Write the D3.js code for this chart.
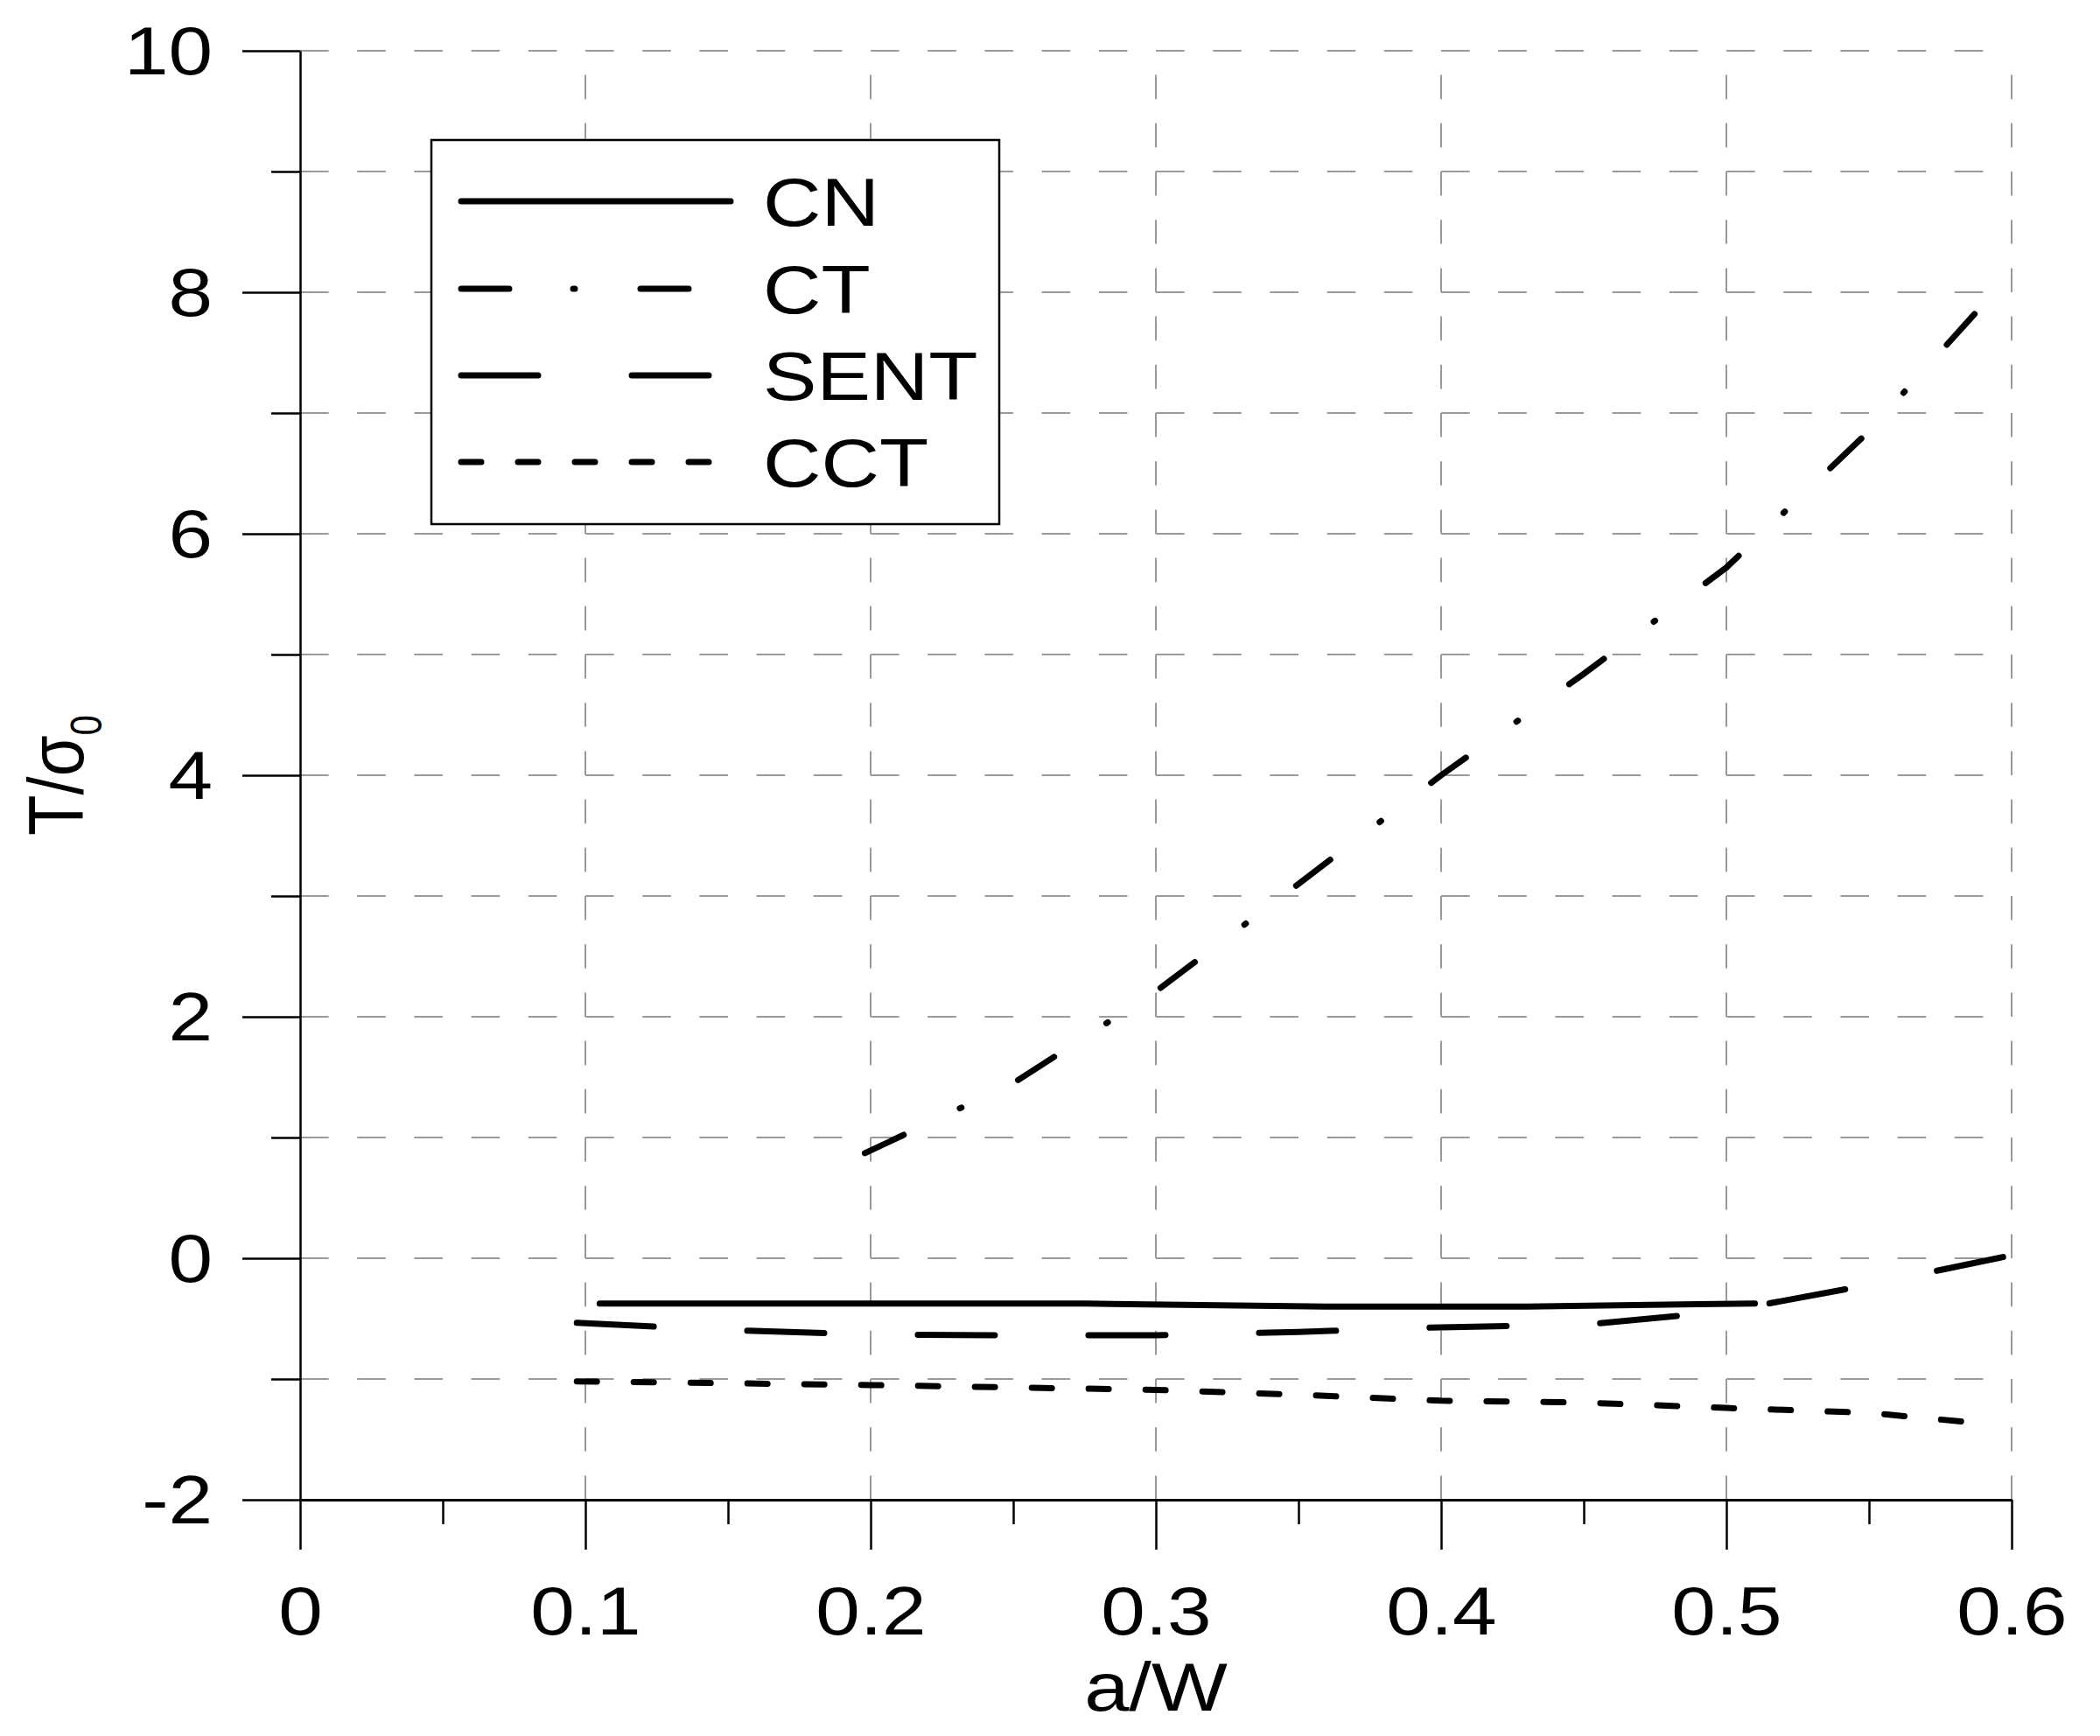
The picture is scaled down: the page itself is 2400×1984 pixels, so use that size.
<!DOCTYPE html>
<html>
<head>
<meta charset="utf-8">
<script src="https://cdn.jsdelivr.net/npm/d3@7"></script>
<style>
  html, body { margin: 0; padding: 0; background: #fff; }
  svg { display: block; }
  text { font-family: "Liberation Sans", Arial, Helvetica, sans-serif; fill: #000; }
</style>
</head>
<body>
<svg id="chart" width="2400" height="1984"></svg>
<script>
// ---- data ----
const xTicks = [0, 0.1, 0.2, 0.3, 0.4, 0.5, 0.6];
const xMinorTicks = [0.05, 0.15, 0.25, 0.35, 0.45, 0.55];
const yTicks = [-2, 0, 2, 4, 6, 8, 10];
const yMinorTicks = [-1, 1, 3, 5, 7, 9];
const gridYValues = [-1, 0, 1, 2, 3, 4, 5, 6, 7, 8, 9, 10];
const gridXValues = [0.1, 0.2, 0.3, 0.4, 0.5, 0.6];

const seriesNames = ["CN", "CT", "SENT", "CCT"];

const cnX = [0.105, 0.2, 0.275, 0.36, 0.43, 0.49, 0.51];
const cnY = [-0.375, -0.375, -0.375, -0.40, -0.40, -0.38, -0.375];

const ctX = [0.198, 0.25, 0.3, 0.35, 0.4, 0.45, 0.5, 0.55, 0.587];
const ctY = [0.87, 1.45, 2.21, 3.1, 4.0, 4.84, 5.72, 6.85, 7.82];

const sentX = [0.097, 0.15, 0.2, 0.25, 0.3, 0.35, 0.4, 0.45, 0.5, 0.55, 0.597];
const sentY = [-0.535, -0.595, -0.632, -0.638, -0.638, -0.61, -0.572, -0.55, -0.44, -0.22, 0.01];

const cctX = [0.097, 0.15, 0.2, 0.25, 0.3, 0.35, 0.4, 0.45, 0.5, 0.55, 0.586];
const cctY = [-1.02, -1.035, -1.05, -1.07, -1.09, -1.13, -1.18, -1.195, -1.24, -1.28, -1.36];

// ---- layout ----
const svg = d3.select("#chart");
const x = d3.scaleLinear().domain([0, 0.6]).range([343, 2299]);
const y = d3.scaleLinear().domain([-2, 10]).range([1714, 58]);
const SX = 1.18; // horizontal text stretch of the original

// grid
const grid = svg.append("g").attr("stroke", "#9a9a9a").attr("stroke-width", 2).attr("fill", "none");
grid.selectAll("line.h").data(gridYValues).join("line")
  .attr("x1", x(0)).attr("x2", x(0.6))
  .attr("y1", d => y(d)).attr("y2", d => y(d))
  .attr("stroke-dasharray", "32.6 32.6");
grid.selectAll("line.v").data(gridXValues).join("line")
  .attr("x1", d => x(d)).attr("x2", d => x(d))
  .attr("y1", y(-2)).attr("y2", y(10))
  .attr("stroke-dasharray", "27.6 27.6");

// axes
const fmt = d => String(d);
const yAxis = svg.append("g").attr("transform", `translate(${x(0)},0)`)
  .call(d3.axisLeft(y).tickValues(yTicks).tickFormat(fmt).tickSize(66).tickSizeOuter(0).tickPadding(0));
yAxis.select(".domain").attr("stroke-width", 2.5).attr("stroke", "#000");
yAxis.selectAll(".tick line").attr("stroke-width", 2.5).attr("stroke", "#000");
yAxis.selectAll(".tick text")
  .attr("font-size", 77).attr("font-family", null)
  .attr("x", -100 / SX).attr("dy", "0.35em")
  .attr("transform", `scale(${SX},1)`);

const yMinor = svg.append("g").attr("transform", `translate(${x(0)},0)`)
  .call(d3.axisLeft(y).tickValues(yMinorTicks).tickFormat("").tickSize(33).tickSizeOuter(0));
yMinor.select(".domain").remove();
yMinor.selectAll(".tick line").attr("stroke-width", 2.5).attr("stroke", "#000");

const xAxis = svg.append("g").attr("transform", `translate(0,${y(-2)})`)
  .call(d3.axisBottom(x).tickValues(xTicks).tickFormat(fmt).tickSize(57).tickSizeOuter(0).tickPadding(42));
xAxis.select(".domain").attr("stroke-width", 3).attr("stroke", "#000");
xAxis.selectAll(".tick line").attr("stroke-width", 2.5).attr("stroke", "#000");
xAxis.selectAll(".tick text")
  .attr("font-size", 77).attr("font-family", null)
  .attr("transform", `scale(${SX},1)`);

const xMinor = svg.append("g").attr("transform", `translate(0,${y(-2)})`)
  .call(d3.axisBottom(x).tickValues(xMinorTicks).tickFormat("").tickSize(28).tickSizeOuter(0));
xMinor.select(".domain").remove();
xMinor.selectAll(".tick line").attr("stroke-width", 2.5).attr("stroke", "#000");

// axis titles
svg.append("text")
  .attr("transform", `translate(${(x(0) + x(0.6)) / 2},1955) scale(${SX},1)`)
  .attr("text-anchor", "middle").attr("font-size", 78)
  .text("a/W");

const yt = svg.append("text")
  .attr("transform", `translate(95,${(y(-2) + y(10)) / 2}) rotate(-90) scale(1,${SX})`)
  .attr("text-anchor", "middle").attr("font-size", 76);
yt.append("tspan").text("T/σ");
yt.append("tspan").attr("font-size", 42).attr("dy", 18).text("0");

// series
const line = d3.line().x(d => x(d[0])).y(d => y(d[1]));
const series = [
  { name: "CN",   xs: cnX,   ys: cnY,   dash: null,              legendDash: null },
  { name: "CT",   xs: ctX,   ys: ctY,   dash: "49 71 2 72",      legendDash: "55 73 2 75" },
  { name: "SENT", xs: sentX, ys: sentY, dash: "88 107",          legendDash: "88 107" },
  { name: "CCT",  xs: cctX,  ys: cctY,  dash: "23 42",           legendDash: "23 42" }
];

const plot = svg.append("g").attr("fill", "none").attr("stroke", "#000")
  .attr("stroke-width", 7).attr("stroke-linecap", "round").attr("stroke-linejoin", "round");
series.forEach(s => {
  const pts = s.xs.map((v, i) => [v, s.ys[i]]);
  plot.append("path").attr("d", line(pts))
    .attr("stroke-dasharray", s.dash);
});

// legend
const lg = svg.append("g");
lg.append("rect").attr("x", 493).attr("y", 160).attr("width", 649).attr("height", 439)
  .attr("fill", "#fff").attr("stroke", "#000").attr("stroke-width", 2.5);
const legendRowY = [230, 330, 429, 528];
const legendEnd = [835, 788, 812, 811];
series.forEach((s, i) => {
  lg.append("line").attr("x1", 527).attr("x2", legendEnd[i])
    .attr("y1", legendRowY[i]).attr("y2", legendRowY[i])
    .attr("stroke", "#000").attr("stroke-width", 7).attr("stroke-linecap", "round")
    .attr("stroke-dasharray", s.legendDash);
  lg.append("text")
    .attr("transform", `translate(872,${legendRowY[i] + 28}) scale(${SX},1)`)
    .attr("font-size", 78)
    .text(seriesNames[i]);
});
</script>
</body>
</html>
